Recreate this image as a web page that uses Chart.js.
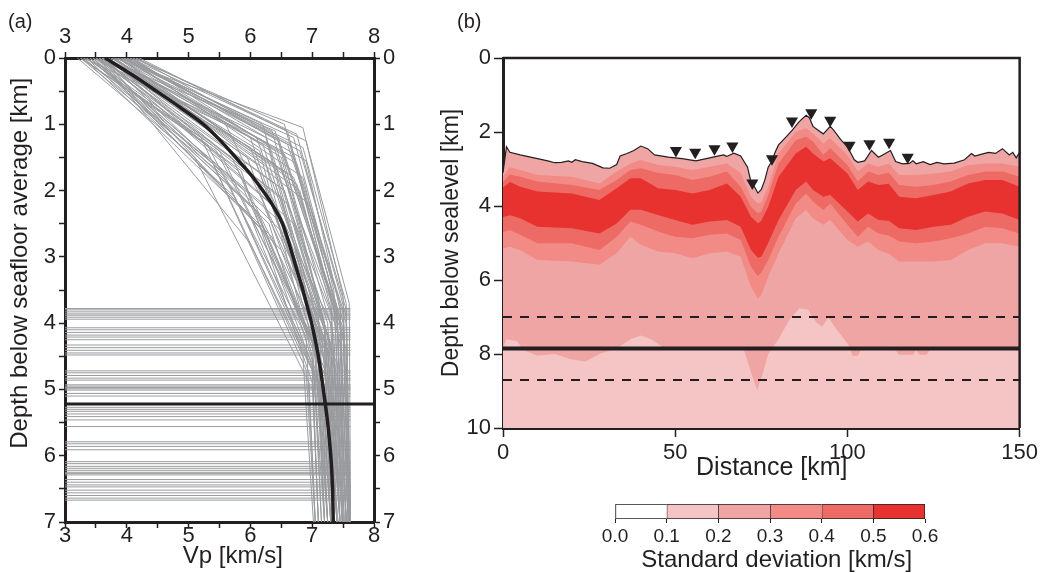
<!DOCTYPE html>
<html lang="en">
<head>
<meta charset="UTF-8">
<title>Vp profiles and standard deviation</title>
<script src="https://cdn.jsdelivr.net/npm/chart.js"></script>
<style>
  body { margin: 0; background: #fff; width: 1041px; height: 573px; position: relative; overflow: hidden; font-family: "Liberation Sans", Arial, sans-serif; }
  canvas { position: absolute; }
  .panel-label { position: absolute; font-size: 20px; color: #231f20; }
</style>
</head>
<body>
<canvas id="graficoA" width="440" height="573" style="left:0; top:0;"></canvas>
<canvas id="graficoB" width="601" height="492" style="left:440px; top:0;"></canvas>
<canvas id="escala" width="420" height="93" style="left:560px; top:480px;"></canvas>
<div class="panel-label" style="left:8px; top:10px;">(a)</div>
<div class="panel-label" style="left:457px; top:10px;">(b)</div>

<script>
// ---- (a) velocity profiles ----
// each profile: (topV,0) -> (kinkV,kinkZ) -> (midV,midZ) -> (baseV,7)
const topV  = [3.20,3.25,3.30,3.35,3.40,3.45,3.50,3.55,3.60,3.65,3.70,3.75,3.80,3.85,3.90,3.95,4.00,4.05,4.10,4.20,3.50,3.60,3.70,3.40,3.55,3.65,3.75,3.85,3.95,4.15,3.30,3.45,3.60,3.80,3.90,4.00,3.70,3.35,3.50,4.10,3.65,3.80,3.55,3.95,3.25,
               3.30,3.45,3.60,3.75,3.90,4.05,3.55,3.70,3.40,3.85,4.00,3.65,3.50,3.80,3.95,3.35,3.60,4.15,3.45,3.75,3.55,3.90,3.25,4.05,3.65];
const kinkZ = [1.5,1.8,2.4,1.3,2.0,2.2,1.5,2.8,2.0,1.6,1.7,1.4,1.05,1.3,1.2,1.5,1.4,1.1,1.6,1.25,2.4,2.6,2.2,1.4,1.7,2.0,1.2,1.3,1.2,1.3,1.6,2.7,2.3,1.6,1.9,1.1,1.4,2.1,2.9,1.0,1.5,1.8,2.3,1.0,1.2,
               1.0,1.2,1.1,1.5,1.35,1.55,1.9,2.5,2.3,1.75,1.8,1.2,1.35,2.0,1.45,1.7,2.1,1.15,2.5,1.6,1.3,2.2,1.4,1.25,2.7];
const kinkV = [5.10,5.60,6.00,5.30,5.90,6.20,5.70,6.00,6.30,6.10,6.50,6.40,6.85,6.60,6.70,6.50,6.80,6.60,6.75,6.90,6.40,6.20,6.60,5.50,5.80,6.55,6.00,6.30,6.45,6.65,5.40,6.35,6.45,6.25,6.75,6.35,6.15,5.75,6.50,6.55,5.95,6.70,6.10,6.20,5.20,
               5.60,6.10,6.40,6.70,6.85,6.90,6.40,6.70,6.10,6.60,6.85,6.25,6.00,6.80,6.55,5.85,6.50,6.75,6.30,6.40,6.20,6.95,5.45,6.45,6.60];
const midZ  = [4.9,4.6,4.8,4.2,4.5,4.3,4.0,5.0,4.0,4.4,3.9,3.8,3.6,3.7,3.5,4.2,3.8,4.0,4.1,3.7,4.6,4.9,4.2,4.4,4.6,4.5,4.3,4.0,3.9,3.8,4.7,4.9,4.1,4.8,4.4,4.0,4.5,4.7,4.6,3.6,4.3,4.0,4.8,4.2,4.5,
               3.9,4.1,4.2,3.9,3.7,4.0,4.3,4.5,4.6,4.4,4.2,4.6,4.0,4.3,3.8,4.9,4.7,3.9,5.0,4.1,4.4,4.0,4.2,3.7,4.8];
const midV  = [6.95,7.00,7.05,6.90,7.10,7.20,7.00,7.15,7.30,7.20,7.40,7.30,7.50,7.45,7.35,7.25,7.55,7.40,7.50,7.60,7.30,7.10,7.45,7.05,7.15,7.35,7.10,7.25,7.40,7.50,6.90,7.25,7.20,7.15,7.55,7.20,7.00,7.00,7.40,7.30,7.05,7.45,7.25,7.15,6.85,
               7.10,7.20,7.35,7.45,7.55,7.50,7.30,7.35,7.10,7.30,7.50,7.20,7.05,7.45,7.40,7.00,7.25,7.55,7.15,7.20,7.25,7.55,7.00,7.35,7.40];
const baseV = [7.05,7.10,7.15,7.05,7.20,7.30,7.25,7.25,7.45,7.35,7.55,7.50,7.62,7.58,7.50,7.40,7.60,7.55,7.60,7.62,7.40,7.20,7.55,7.20,7.30,7.45,7.35,7.45,7.55,7.58,7.05,7.35,7.40,7.30,7.60,7.50,7.20,7.10,7.52,7.48,7.25,7.58,7.35,7.42,7.02,
               7.30,7.40,7.50,7.58,7.62,7.60,7.45,7.50,7.25,7.45,7.60,7.35,7.30,7.55,7.52,7.10,7.40,7.62,7.25,7.45,7.45,7.60,7.15,7.55,7.50];

// Moho depth of each model (gray horizontal lines)
const mohoDepths = [3.78,3.80,3.83,3.86,3.88,3.91,3.94,4.07,4.10,4.14,4.18,4.21,4.25,4.33,4.37,4.41,4.45,4.48,4.72,4.75,4.79,4.83,4.86,4.93,4.95,4.97,4.99,5.01,5.06,5.10,5.27,5.30,5.33,5.37,5.41,5.46,5.56,5.79,5.82,5.86,5.91,6.09,6.12,6.16,6.19,6.22,6.25,6.27,6.29,6.36,6.40,6.44,6.47,6.52,6.56,6.60,6.64,6.67];
const mohoLineV = [3, 7.62];

// average model
const meanZ = [0,0.25,0.5,0.75,1,1.25,1.5,1.75,2,2.25,2.5,2.75,3,3.25,3.5,3.75,4,4.5,5,5.5,6,6.5,7];
const meanV = [3.65,4.08,4.48,4.87,5.24,5.52,5.76,6.0,6.2,6.38,6.52,6.61,6.69,6.77,6.85,6.92,6.99,7.1,7.18,7.25,7.3,7.33,7.34];
const meanMoho = 5.22;

// ---- (b) standard deviation section ----
const seafloorX = [0,1,2,5,8,10,13,15,17,19,20,21,23,26,29,31,33,34,36,38,40,42,44,48,52,56,59,62,64,65,67,69,71,72,73,74,75,76,77,78,79,80,82,84,86,88,89,90,91.5,93,95,96,98,100,102,103,105,107,109,111,112.5,114,116,118,119,120,122,124,126,128,131,134,136,137,139,141,143,145,147,148,149,150];
const seafloorZ = [3.1,2.4,2.55,2.62,2.68,2.72,2.78,2.83,2.82,2.78,2.82,2.75,2.8,2.85,2.97,2.98,2.88,2.65,2.58,2.5,2.38,2.45,2.62,2.68,2.72,2.78,2.72,2.66,2.62,2.66,2.57,2.65,2.95,3.35,3.48,3.65,3.55,3.3,2.95,2.8,2.55,2.35,2.15,1.95,1.72,1.55,1.62,1.85,1.95,2.05,1.85,1.95,2.2,2.4,2.75,2.82,2.78,2.5,2.68,2.58,2.5,2.8,2.86,2.85,2.78,2.86,2.8,2.88,2.82,2.86,2.84,2.75,2.58,2.65,2.6,2.55,2.58,2.45,2.62,2.55,2.7,2.55];

// contour boundaries (depth where std crosses 0.3 / 0.4 / 0.5, above and below the peak)
const bandX = [0,2,5,10,20,28,33,37,40,45,50,55,60,65,69,72,74,75,77,80,85,88,90,93,95,100,103,106,109,112,115,120,125,130,135,140,145,150];
const top03 = [3.2,2.95,3.03,3.16,3.21,3.39,3.07,2.85,2.76,2.89,2.94,3.03,2.94,2.85,3.11,3.75,3.93,3.9,3.48,2.58,1.99,1.9,2.04,2.31,2.17,2.62,3.07,2.85,2.94,2.85,3.16,3.16,3.12,3.07,2.89,2.85,2.85,2.94];
const top04 = [3.35,3.15,3.21,3.34,3.43,3.57,3.3,3.03,2.98,3.11,3.16,3.3,3.21,3.07,3.48,4.02,4.2,4.15,3.7,2.85,2.22,2.13,2.26,2.62,2.44,2.89,3.34,3.07,3.16,3.1,3.43,3.48,3.43,3.34,3.16,3.07,3.07,3.21];
const top05 = [3.5,3.35,3.48,3.61,3.66,3.84,3.52,3.25,3.25,3.52,3.57,3.66,3.57,3.39,3.75,4.29,4.47,4.4,4.02,3.21,2.58,2.4,2.58,2.8,2.71,3.12,3.57,3.34,3.43,3.4,3.75,3.79,3.7,3.61,3.39,3.3,3.3,3.48];
const bot05 = [4.3,4.25,4.33,4.56,4.6,4.74,4.47,4.1,4.1,4.24,4.38,4.51,4.42,4.38,4.56,5.19,5.4,5.37,5.0,4.38,3.57,3.34,3.57,3.75,3.7,4.15,4.42,4.2,4.38,4.4,4.6,4.65,4.56,4.51,4.29,4.15,4.2,4.38];
const bot04 = [4.7,4.65,4.78,5.01,5.01,5.19,4.83,4.42,4.51,4.69,4.83,4.87,4.78,4.74,4.92,5.64,5.9,5.8,5.46,4.83,3.93,3.66,3.88,4.11,3.93,4.51,4.83,4.56,4.74,4.8,4.96,5.01,4.96,4.87,4.74,4.56,4.6,4.74];
const bot03 = [5.15,5.1,5.19,5.46,5.5,5.59,5.28,4.83,5.05,5.23,5.28,5.41,5.28,5.23,5.37,6.18,6.5,6.4,5.91,5.28,4.33,4.11,4.33,4.51,4.38,4.92,5.1,4.96,5.19,5.3,5.5,5.5,5.5,5.46,5.19,5.01,5.01,5.1];
// where std drops below 0.2 (deep part)
const bot02X = [0,1,4,6,10,15,20,24,28,33,37,40,43,47,60,66,70,72,73.8,75.5,77,78.5,80,83,86,88.5,91,92.6,94.5,97,100.3,101.5,103,104,114,115,119,120,121,123,124,150];
const bot02  = [7.85,7.6,7.65,7.9,8.05,8.0,8.15,8.2,8.0,7.85,7.6,7.5,7.6,7.85,7.85,7.85,7.9,8.5,8.97,8.5,8.0,7.8,7.6,7.1,6.77,6.8,7.15,7.26,7.03,7.35,7.76,8.05,8.05,7.88,7.9,8.02,8.02,7.9,8.02,8.02,7.88,7.88];

// OBS stations
const obsX = [50.2,55.8,61.4,66.6,72.4,78.1,83.9,89.5,95,100.6,106.4,112.1,117.5];
const obsZ = [2.5,2.55,2.45,2.38,3.38,2.72,1.7,1.48,1.68,2.36,2.32,2.28,2.68];

const dashedDepths = [7.0, 8.7];
const mohoDepth = 7.85;

// colour scale
const sdEdges  = [0, 0.1, 0.2, 0.3, 0.4, 0.5, 0.6];
const sdColors = ['#ffffff', '#f4c5c4', '#f0a5a5', '#f28a86', '#ee6a64', '#e8322f'];

const INK = '#231f20';
const GRAY = '#9a9b9e';
const NB = '\u00a0';

Chart.defaults.font.family = "'Liberation Sans', Arial, Helvetica, sans-serif";
Chart.defaults.font.size = 22;
Chart.defaults.color = INK;

function pts(xs, ys) {
    return xs.map((x, i) => ({ x: x, y: ys[i] }));
}

const base = {
    responsive: false,
    animation: false,
    events: [],
    plugins: { legend: { display: false }, tooltip: { enabled: false } },
    elements: { point: { radius: 0 }, line: { tension: 0 } }
};

// ---------- grafico (a) ----------
const datasetsA = [];
datasetsA.push({ data: pts(meanV, meanZ), borderColor: INK, borderWidth: 3.5, tension: 0.3, order: 0 });
datasetsA.push({ data: [{ x: 3, y: meanMoho }, { x: 8, y: meanMoho }], borderColor: INK, borderWidth: 3, order: 0 });
mohoDepths.forEach(z => {
    datasetsA.push({ data: [{ x: mohoLineV[0], y: z }, { x: mohoLineV[1], y: z }], borderColor: GRAY, borderWidth: 1, order: 2 });
});
topV.forEach((v0, i) => {
    datasetsA.push({
        data: [{ x: v0, y: 0 }, { x: kinkV[i], y: kinkZ[i] }, { x: midV[i], y: midZ[i] }, { x: baseV[i], y: 7 }],
        borderColor: GRAY, borderWidth: 1, order: 1
    });
});

const intLabel = v => Number.isInteger(v) ? v : '';
const gridA = { drawOnChartArea: false, tickLength: 6, color: INK, tickWidth: 1.5 };
const borderA = { width: 3, color: INK };

new Chart(document.getElementById('graficoA'), {
    type: 'line',
    data: { datasets: datasetsA },
    options: {
        ...base,
        layout: { padding: 0 },
        scales: {
            x: {
                type: 'linear', position: 'bottom', min: 3, max: 8, z: 1,
                ticks: { stepSize: 0.5, autoSkip: false, maxRotation: 0, padding: -5, callback: intLabel },
                grid: gridA, border: borderA,
                title: { display: true, text: NB.repeat(4) + 'Vp [km/s]', font: { size: 24, lineHeight: 1 }, padding: { top: 0, bottom: 5 } },
                afterFit: s => { s.height = 51; }
            },
            y: {
                type: 'linear', position: 'left', min: 0, max: 7, reverse: true, z: 1,
                ticks: { stepSize: 0.5, autoSkip: false, padding: 3, callback: intLabel },
                grid: gridA, border: borderA,
                title: { display: true, text: NB.repeat(8) + 'Depth below seafloor average [km]', font: { size: 24, lineHeight: 1 }, padding: { top: 8, bottom: 0 } },
                afterFit: s => { s.width = 65; }
            },
            x2: {
                type: 'linear', position: 'top', min: 3, max: 8, z: 1,
                ticks: { stepSize: 0.5, autoSkip: false, maxRotation: 0, padding: 2, callback: intLabel },
                grid: gridA, border: borderA,
                afterFit: s => { s.height = 58; }
            },
            y2: {
                type: 'linear', position: 'right', min: 0, max: 7, reverse: true, z: 1,
                ticks: { stepSize: 0.5, autoSkip: false, padding: 3, callback: intLabel },
                grid: gridA, border: borderA,
                afterFit: s => { s.width = 66; }
            }
        }
    }
});

// ---------- grafico (b) ----------
const noLine = { borderColor: 'transparent', borderWidth: 0 };
const datasetsB = [
    // 0.2-0.3 everywhere below the seafloor
    { data: pts(seafloorX, seafloorZ), ...noLine, fill: { value: 10 }, backgroundColor: sdColors[2], order: 10 },
    // 0.1-0.2 in the deep part
    { data: pts(bot02X, bot02), ...noLine, fill: { value: 10 }, backgroundColor: sdColors[1], order: 9 },
    { data: pts(bandX, top03), ...noLine, fill: '+1', backgroundColor: sdColors[3], order: 8 },
    { data: pts(bandX, bot03), ...noLine, order: 8 },
    { data: pts(bandX, top04), ...noLine, fill: '+1', backgroundColor: sdColors[4], order: 7 },
    { data: pts(bandX, bot04), ...noLine, order: 7 },
    { data: pts(bandX, top05), ...noLine, fill: '+1', backgroundColor: sdColors[5], order: 6 },
    { data: pts(bandX, bot05), ...noLine, order: 6 },
    // reference lines
    { data: [{ x: 0, y: dashedDepths[0] }, { x: 150, y: dashedDepths[0] }], borderColor: INK, borderWidth: 2, borderDash: [9, 8], order: 3 },
    { data: [{ x: 0, y: dashedDepths[1] }, { x: 150, y: dashedDepths[1] }], borderColor: INK, borderWidth: 2, borderDash: [9, 8], order: 3 },
    { data: [{ x: 0, y: mohoDepth }, { x: 150, y: mohoDepth }], borderColor: INK, borderWidth: 4, order: 3 },
    // seafloor
    { data: pts(seafloorX, seafloorZ), borderColor: INK, borderWidth: 1.2, order: 2 },
    // OBS
    { data: pts(obsX, obsZ), showLine: false, pointStyle: 'triangle', pointRotation: 180, pointRadius: 7,
      pointBackgroundColor: INK, pointBorderColor: INK, pointBorderWidth: 0, order: 1 },
    // top and right edge of the frame
    { data: [{ x: 0, y: 0 }, { x: 150, y: 0 }, { x: 150, y: 10 }], borderColor: INK, borderWidth: 2.5, clip: false, order: 0 }
];

const gridB = { drawOnChartArea: false, tickLength: 9, color: INK, tickWidth: 1.5 };

new Chart(document.getElementById('graficoB'), {
    type: 'line',
    data: { datasets: datasetsB },
    options: {
        ...base,
        layout: { padding: { top: 58, right: 19, left: 0, bottom: 0 } },
        scales: {
            x: {
                type: 'linear', position: 'bottom', min: 0, max: 150, z: 1,
                ticks: { stepSize: 50, maxRotation: 0, padding: 3 },
                grid: gridB, border: { width: 3, color: INK },
                title: { display: true, text: NB.repeat(3) + 'Distance [km]', font: { size: 25, lineHeight: 1 }, padding: { top: 0, bottom: 11 } },
                afterFit: s => { s.height = 64; }
            },
            y: {
                type: 'linear', position: 'left', min: 0, max: 10, reverse: true, z: 1,
                ticks: { stepSize: 2, padding: 3 },
                grid: gridB, border: { width: 3, color: INK },
                title: { display: true, text: 'Depth below sealevel [km]', font: { size: 23, lineHeight: 1 }, padding: { top: 0, bottom: 0 } },
                afterFit: s => { s.width = 63; }
            }
        }
    }
});

// ---------- escala de cores ----------
new Chart(document.getElementById('escala'), {
    type: 'bar',
    data: {
        labels: [''],
        datasets: sdColors.map((c, i) => ({
            data: [[sdEdges[i], sdEdges[i + 1]]],
            backgroundColor: c,
            borderColor: INK,
            borderWidth: { top: 1, bottom: 1, left: 1, right: i === sdColors.length - 1 ? 1 : 0 },
            borderSkipped: false,
            barPercentage: 1,
            categoryPercentage: 1,
            grouped: false
        }))
    },
    options: {
        ...base,
        indexAxis: 'y',
        layout: { padding: { left: 55, right: 55, top: 24, bottom: 0 } },
        scales: {
            x: {
                type: 'linear', min: 0, max: 0.6,
                ticks: { stepSize: 0.1, maxRotation: 0, padding: 2, font: { size: 19 }, callback: v => v.toFixed(1) },
                grid: { drawOnChartArea: false, tickLength: 4, color: INK },
                border: { display: false },
                title: { display: true, text: NB.repeat(2) + 'Standard deviation [km/s]', font: { size: 24, lineHeight: 1 }, padding: { top: 0, bottom: 1 } },
                afterFit: s => { s.height = 54; }
            },
            y: { display: false }
        }
    }
});
</script>
</body>
</html>
